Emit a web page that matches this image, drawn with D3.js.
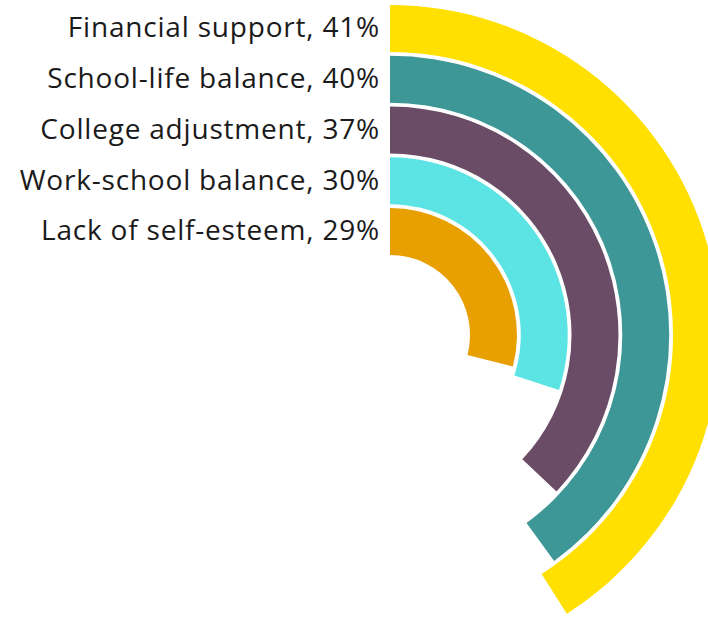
<!DOCTYPE html>
<html>
<head>
<meta charset="utf-8">
<script src="https://cdn.jsdelivr.net/npm/d3@7"></script>
<style>
  html, body { margin: 0; padding: 0; background: #ffffff; }
  svg { display: block; }
</style>
</head>
<body>
<svg id="chart" width="708" height="618"></svg>
<script>
// Top concerns, outermost ring first
const categories = ["Financial support", "School-life balance", "College adjustment", "Work-school balance", "Lack of self-esteem"];
const values = [41, 40, 37, 30, 29];
const colors = ["#FFE000", "#3D9797", "#6A4C66", "#5CE4E4", "#E8A000"];

const width = 708, height = 618;
const cx = 390, cy = 335;
const innerR = 80, outerR = 330;

const svg = d3.select("#chart");
const g = svg.append("g").attr("transform", `translate(${cx},${cy})`);

// Rings: innermost category closest to the centre
const rScale = d3.scaleBand()
  .domain(categories.slice().reverse())
  .range([innerR, outerR])
  .paddingInner(0.075)
  .paddingOuter(0);

// Full turn corresponds to 100%
const aScale = d3.scaleLinear().domain([0, 100]).range([0, 2 * Math.PI]);

const arc = d3.arc()
  .innerRadius(d => rScale(d.cat))
  .outerRadius(d => rScale(d.cat) + rScale.bandwidth())
  .startAngle(0)
  .endAngle(d => aScale(d.value));

const data = categories.map((c, i) => ({ cat: c, value: values[i], color: colors[i] }));

g.selectAll("path.ring")
  .data(data)
  .join("path")
  .attr("class", "ring")
  .attr("d", arc)
  .attr("fill", d => d.color);

g.selectAll("text.label")
  .data(data)
  .join("text")
  .attr("class", "label")
  .attr("x", -10)
  .attr("y", d => -(rScale(d.cat) + rScale.bandwidth() / 2))
  .attr("dy", "0.32em")
  .attr("text-anchor", "end")
  .attr("font-family", "'Open Sans', Lato, sans-serif")
  .attr("font-size", 28)
  .attr("letter-spacing", 0.8)
  .attr("fill", "#1a1a1a")
  .text(d => `${d.cat}, ${d.value}%`);
</script>
</body>
</html>
